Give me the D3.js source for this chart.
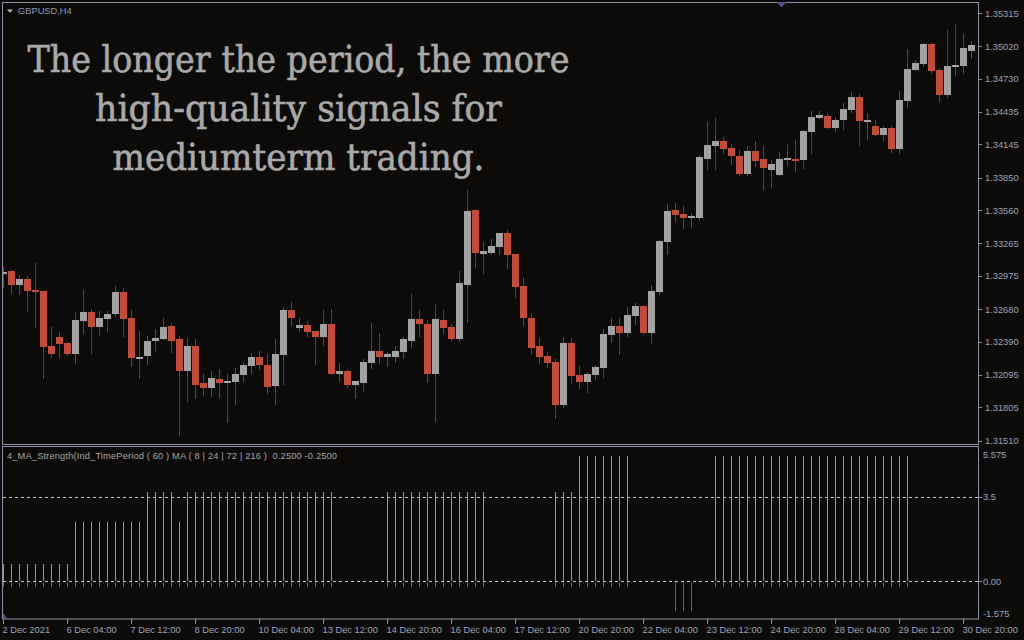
<!DOCTYPE html>
<html>
<head>
<meta charset="utf-8">
<script src="https://cdn.jsdelivr.net/npm/d3@7"></script>
<style>
  html, body { margin: 0; padding: 0; background: #0d0b0a; }
  svg { display: block; }
</style>
</head>
<body>
<script>
// GBPUSD H4 candles
var opens = [1.32988,1.33015,1.32890,1.32944,1.32846,1.32837,1.32347,1.32427,1.32374,1.32276,
  1.32570,1.32650,1.32516,1.32587,1.32632,1.32828,1.32596,1.32240,1.32258,1.32392,
  1.32409,1.32525,1.32409,1.32133,1.32347,1.32018,1.31973,1.32053,1.32026,1.32035,
  1.32089,1.32169,1.32249,1.32178,1.31991,1.32267,1.32668,1.32507,1.32534,1.32481,
  1.32427,1.32543,1.32098,1.32133,1.32000,1.32026,1.32196,1.32311,1.32249,1.32249,
  1.32294,1.32400,1.32587,1.32543,1.32098,1.32579,1.32516,1.32409,1.32890,1.33558,
  1.33166,1.33175,1.33229,1.33353,1.33166,1.32881,1.32596,1.32347,1.32258,1.32205,
  1.31822,1.32374,1.32089,1.32035,1.32089,1.32151,1.32445,1.32525,1.32463,1.32614,
  1.32703,1.32463,1.32828,1.33273,1.33558,1.33522,1.33487,1.33487,1.34012,1.34128,
  1.34173,1.34110,1.34039,1.33879,1.34083,1.34012,1.33914,1.33870,1.34003,1.34012,
  1.34003,1.34253,1.34377,1.34395,1.34288,1.34360,1.34449,1.34564,1.34342,1.34306,
  1.34226,1.34288,1.34101,1.34529,1.34805,1.34858,1.35036,1.34805,1.34582,1.34832,
  1.34840,1.34974];
var highs = [1.33050,1.33024,1.32979,1.32970,1.33086,1.32837,1.32516,1.32472,1.32383,1.32650,
  1.32846,1.32677,1.32659,1.32659,1.32881,1.32863,1.32668,1.32489,1.32436,1.32498,
  1.32596,1.32552,1.32436,1.32418,1.32409,1.32098,1.32133,1.32142,1.32098,1.32151,
  1.32205,1.32285,1.32311,1.32276,1.32409,1.32694,1.32739,1.32596,1.32570,1.32481,
  1.32668,1.32677,1.32196,1.32142,1.32044,1.32231,1.32552,1.32463,1.32302,1.32347,
  1.32427,1.32810,1.32668,1.32579,1.32721,1.32668,1.32543,1.33015,1.33736,1.33567,
  1.33273,1.33300,1.33353,1.33380,1.33166,1.32961,1.32641,1.32418,1.32302,1.32231,
  1.32427,1.32418,1.32169,1.32124,1.32178,1.32498,1.32596,1.32596,1.32694,1.32730,
  1.32712,1.32890,1.33291,1.33612,1.33620,1.33594,1.33531,1.34048,1.34342,1.34377,
  1.34208,1.34146,1.34092,1.34128,1.34173,1.34128,1.34003,1.34075,1.34146,1.34181,
  1.34270,1.34440,1.34440,1.34422,1.34386,1.34511,1.34609,1.34591,1.34422,1.34360,
  1.34306,1.34306,1.34618,1.34992,1.34894,1.35045,1.35045,1.34823,1.35161,1.35214,
  1.35125,1.35063];
var lows = [1.32872,1.32819,1.32810,1.32659,1.32516,1.32062,1.32249,1.32249,1.32267,1.32196,
  1.32463,1.32285,1.32445,1.32489,1.32614,1.32436,1.32169,1.32062,1.32187,1.32311,
  1.32409,1.32294,1.31563,1.31866,1.31884,1.31911,1.31902,1.31893,1.31679,1.31831,
  1.32044,1.32107,1.32142,1.31937,1.31839,1.32009,1.32534,1.32489,1.32436,1.32187,
  1.32356,1.32098,1.32044,1.31982,1.31884,1.31955,1.32151,1.32196,1.32169,1.32205,
  1.32240,1.32338,1.32436,1.32035,1.31688,1.32463,1.32392,1.32392,1.32561,1.33050,
  1.32997,1.33166,1.33166,1.33042,1.32783,1.32534,1.32276,1.32196,1.32160,1.31706,
  1.31804,1.32026,1.31973,1.31946,1.32053,1.32071,1.32383,1.32276,1.32436,1.32543,
  1.32454,1.32374,1.32810,1.33166,1.33460,1.33398,1.33407,1.33469,1.33923,1.33923,
  1.34066,1.33968,1.33870,1.33870,1.33950,1.33745,1.33763,1.33870,1.33959,1.33905,
  1.33932,1.34066,1.34377,1.34288,1.34262,1.34279,1.34431,1.34137,1.34190,1.34226,
  1.34181,1.34075,1.34066,1.34475,1.34805,1.34840,1.34778,1.34529,1.34564,1.34760,
  1.34778,1.34912];
var closes = [1.33006,1.32890,1.32944,1.32837,1.32828,1.32338,1.32276,1.32365,1.32276,1.32579,
  1.32650,1.32516,1.32596,1.32632,1.32828,1.32587,1.32240,1.32249,1.32400,1.32418,
  1.32516,1.32400,1.32133,1.32347,1.32000,1.31973,1.32062,1.32026,1.32044,1.32098,
  1.32178,1.32249,1.32178,1.31982,1.32276,1.32668,1.32596,1.32534,1.32472,1.32427,
  1.32543,1.32098,1.32133,1.32000,1.32044,1.32205,1.32311,1.32249,1.32276,1.32311,
  1.32409,1.32587,1.32543,1.32098,1.32587,1.32507,1.32409,1.32908,1.33549,1.33175,
  1.33193,1.33237,1.33353,1.33157,1.32872,1.32596,1.32329,1.32249,1.32196,1.31822,
  1.32374,1.32080,1.32035,1.32098,1.32160,1.32454,1.32525,1.32463,1.32623,1.32703,
  1.32463,1.32837,1.33282,1.33549,1.33514,1.33487,1.33505,1.34030,1.34137,1.34173,
  1.34101,1.34039,1.33879,1.34083,1.33994,1.33932,1.33968,1.34012,1.34021,1.34003,
  1.34262,1.34386,1.34404,1.34288,1.34360,1.34458,1.34564,1.34351,1.34360,1.34226,
  1.34288,1.34101,1.34538,1.34814,1.34867,1.35036,1.34796,1.34582,1.34840,1.34849,
  1.35001,1.35027];

// 4_MA_Strength histogram (green up part, magenta down part)
var strengthUp = [0.7,0.7,0.7,0.7,0.7,0.7,0.7,0.7,0.7,
  2.45,2.45,2.45,2.45,2.45,2.45,2.45,2.45,2.45,
  3.7,3.7,3.7,3.7,2.45,
  3.7,3.7,3.7,3.7,3.7,3.7,3.7,3.7,3.7,3.7,3.7,3.7,3.7,3.7,3.7,3.7,3.7,3.7,3.7,
  null,null,null,null,null,null,
  3.7,3.7,3.7,3.7,3.7,3.7,3.7,3.7,3.7,3.7,3.7,3.7,3.7,
  null,null,null,null,null,null,null,null,
  3.7,3.7,3.7,
  5.2,5.2,5.2,5.2,5.2,5.2,5.2,
  null,null,null,null,null,null,null,null,null,null,
  5.2,5.2,5.2,5.2,5.2,5.2,5.2,5.2,5.2,5.2,5.2,5.2,5.2,5.2,5.2,5.2,5.2,5.2,5.2,5.2,5.2,5.2,5.2,5.2,5.2,
  null,null,null,null,null,null,null,null];
var strengthDown = [-0.25,-0.25,-0.25,-0.25,-0.25,-0.25,-0.25,-0.25,-0.25,-0.25,
  -0.25,-0.25,-0.25,-0.25,-0.25,-0.25,-0.25,-0.25,-0.25,-0.25,
  -0.25,-0.25,-0.25,-0.25,-0.25,-0.25,-0.25,-0.25,-0.25,-0.25,
  -0.25,-0.25,-0.25,-0.25,-0.25,-0.25,-0.25,-0.25,-0.25,-0.25,-0.25,-0.25,
  null,null,null,null,null,null,
  -0.25,-0.25,-0.25,-0.25,-0.25,-0.25,-0.25,-0.25,-0.25,-0.25,-0.25,-0.25,-0.25,
  null,null,null,null,null,null,null,null,
  -0.25,-0.25,-0.25,-0.25,-0.25,-0.25,-0.25,-0.25,-0.25,-0.25,
  null,null,null,null,null,
  -1.25,-1.25,-1.25,
  null,null,
  -0.25,-0.25,-0.25,-0.25,-0.25,-0.25,-0.25,-0.25,-0.25,-0.25,-0.25,-0.25,-0.25,
  -0.25,-0.25,-0.25,-0.25,-0.25,-0.25,-0.25,-0.25,-0.25,-0.25,-0.25,-0.25,
  null,null,null,null,null,null,null,null];

var dateTickIndex = [0,8,16,24,32,40,48,56,64,72,80,88,96,104,112,120];
var dateTickLabels = ["2 Dec 2021","6 Dec 04:00","7 Dec 12:00","8 Dec 20:00","10 Dec 04:00",
  "13 Dec 12:00","14 Dec 20:00","16 Dec 04:00","17 Dec 12:00","20 Dec 20:00","22 Dec 04:00",
  "23 Dec 12:00","24 Dec 20:00","28 Dec 04:00","29 Dec 12:00","30 Dec 20:00"];
var priceTicks = [1.35315,1.35020,1.34730,1.34435,1.34145,1.33850,1.33560,1.33265,
  1.32975,1.32680,1.32390,1.32095,1.31805,1.31510];
var strengthTicks = [5.575, 3.5, 0, -1.575];
var strengthTickLabels = ["5.575","3.5","0.00","-1.575"];
var strengthLevels = [3.5, 0];
var headline = ["The longer the period, the more", "high-quality signals for", "mediumterm trading."];

var width = 1024, height = 640;
var axisColor = "#8a90a6", labelColor = "#9aa2b8";
var bullColor = "#a3a3a3", bearColor = "#c24b3b", wickColor = "#4a4a4a";
var axisFont = "'Liberation Sans', Arial, sans-serif";

var svg = d3.select("body").append("svg")
    .attr("width", width)
    .attr("height", height)
    .style("font-family", axisFont);

svg.append("rect").attr("width", width).attr("height", height).attr("fill", "#0d0b0a");

// scales
var x = d3.scaleLinear().domain([0, opens.length - 1]).range([3.5, 971.5]);
var y = d3.scaleLinear().domain([1.31510, 1.35315]).range([440.5, 13]);
var iy = d3.scaleLinear().domain([-1.575, 5.575]).range([619, 447]);

svg.append("clipPath").attr("id", "mainClip")
  .append("rect").attr("x", 3).attr("y", 3).attr("width", 975).attr("height", 441);
svg.append("clipPath").attr("id", "indClip")
  .append("rect").attr("x", 3).attr("y", 447).attr("width", 975).attr("height", 172);

// headline text
var headG = svg.append("g");
var headLen = [542, 407, 372];
headline.forEach(function(t, k) {
  headG.append("text")
    .attr("x", 298.5)
    .attr("y", 72 + k * 49)
    .attr("text-anchor", "middle")
    .attr("font-family", "'DejaVu Serif', serif")
    .attr("font-size", 36.5)
    .attr("textLength", headLen[k])
    .attr("lengthAdjust", "spacingAndGlyphs")
    .attr("fill", "#a9a9a9")
    .attr("stroke", "#a9a9a9")
    .attr("stroke-width", 0.6)
    .text(t);
});

// candles
var candles = svg.append("g").attr("clip-path", "url(#mainClip)");
var idx = d3.range(opens.length);

candles.selectAll("line.wick")
  .data(idx)
  .enter().append("line")
    .attr("class", "wick")
    .attr("x1", function(i) { return x(i); })
    .attr("x2", function(i) { return x(i); })
    .attr("y1", function(i) { return Math.round(y(highs[i])); })
    .attr("y2", function(i) { return Math.round(y(lows[i])) + 1; })
    .attr("stroke", wickColor)
    .attr("stroke-width", 1);

candles.selectAll("rect.body")
  .data(idx)
  .enter().append("rect")
    .attr("class", "body")
    .attr("x", function(i) { return x(i) - 3.5; })
    .attr("width", 7)
    .attr("y", function(i) { return Math.round(y(Math.max(opens[i], closes[i]))); })
    .attr("height", function(i) {
      return Math.max(2, Math.round(y(Math.min(opens[i], closes[i]))) - Math.round(y(Math.max(opens[i], closes[i]))));
    })
    .attr("fill", function(i) { return closes[i] >= opens[i] ? bullColor : bearColor; })
    .attr("shape-rendering", "crispEdges");

// main panel frame
svg.append("rect")
  .attr("x", 2.5).attr("y", 2.5).attr("width", 976).attr("height", 442)
  .attr("fill", "none").attr("stroke", axisColor);

// price axis
var pAxis = svg.append("g");
pAxis.selectAll("line")
  .data(priceTicks)
  .enter().append("line")
    .attr("x1", 979).attr("x2", 982)
    .attr("y1", function(d) { return Math.round(y(d)) + 0.5; })
    .attr("y2", function(d) { return Math.round(y(d)) + 0.5; })
    .attr("stroke", axisColor);
pAxis.selectAll("text")
  .data(priceTicks)
  .enter().append("text")
    .attr("x", 985)
    .attr("y", function(d) { return y(d) + 3.5; })
    .attr("font-size", 9.3)
    .attr("fill", labelColor)
    .text(function(d) { return d.toFixed(5); });

// symbol label and markers
svg.append("path").attr("d", "M7,9.5 L13,9.5 L10,12.8 Z").attr("fill", "#b8bcc8");
svg.append("text").attr("x", 18).attr("y", 14).attr("font-size", 9.3)
  .attr("fill", "#8f98b6").text("GBPUSD,H4");
svg.append("path").attr("d", "M776.5,2 L786.5,2 L781.5,7.5 Z").attr("fill", "#4c5284");

// indicator panel
var ind = svg.append("g").attr("clip-path", "url(#indClip)");
ind.selectAll("line.level")
  .data(strengthLevels)
  .enter().append("line")
    .attr("class", "level")
    .attr("x1", 3).attr("x2", 982)
    .attr("y1", function(d) { return Math.round(iy(d)) + 0.5; })
    .attr("y2", function(d) { return Math.round(iy(d)) + 0.5; })
    .attr("stroke", "#c8c8c8")
    .attr("stroke-dasharray", "3,3");

ind.selectAll("line.up")
  .data(idx.filter(function(i) { return strengthUp[i] != null; }))
  .enter().append("line")
    .attr("class", "up")
    .attr("x1", function(i) { return x(i); })
    .attr("x2", function(i) { return x(i); })
    .attr("y1", function(i) { return Math.round(iy(0)); })
    .attr("y2", function(i) { return Math.round(iy(strengthUp[i])); })
    .attr("stroke", "#2ee22e");

ind.selectAll("line.down")
  .data(idx.filter(function(i) { return strengthDown[i] != null; }))
  .enter().append("line")
    .attr("class", "down")
    .attr("x1", function(i) { return x(i); })
    .attr("x2", function(i) { return x(i); })
    .attr("y1", function(i) { return Math.round(iy(0)) + 1; })
    .attr("y2", function(i) { return Math.round(iy(strengthDown[i])); })
    .attr("stroke", "#e0168c");

svg.append("rect")
  .attr("x", 2.5).attr("y", 446.5).attr("width", 976).attr("height", 172.5)
  .attr("fill", "none").attr("stroke", axisColor);
svg.append("path").attr("d", "M3,613 L3,619 L8,619 Z").attr("fill", "#4c5284");

svg.append("text").attr("x", 7).attr("y", 459).attr("font-size", 9.3)
  .attr("fill", "#a6a6a6")
  .attr("textLength", 330)
  .attr("xml:space", "preserve")
  .text("4_MA_Strength(Ind_TimePeriod ( 60 ) MA ( 8 | 24 | 72 | 216 )  0.2500 -0.2500");

// indicator axis
var sAxis = svg.append("g");
sAxis.selectAll("line")
  .data(strengthLevels)
  .enter().append("line")
    .attr("x1", 979).attr("x2", 982)
    .attr("y1", function(d) { return Math.round(iy(d)) + 0.5; })
    .attr("y2", function(d) { return Math.round(iy(d)) + 0.5; })
    .attr("stroke", axisColor);
sAxis.selectAll("text")
  .data(strengthTicks)
  .enter().append("text")
    .attr("x", 983)
    .attr("y", function(d) { return Math.min(Math.max(iy(d), 454), 613) + 3.5; })
    .attr("font-size", 9.3)
    .attr("fill", labelColor)
    .text(function(d, k) { return strengthTickLabels[k]; });

// time axis
var tAxis = svg.append("g");
tAxis.selectAll("line")
  .data(dateTickIndex)
  .enter().append("line")
    .attr("x1", function(i) { return x(i); })
    .attr("x2", function(i) { return x(i); })
    .attr("y1", 619).attr("y2", 624)
    .attr("stroke", axisColor);
tAxis.selectAll("text")
  .data(dateTickIndex)
  .enter().append("text")
    .attr("x", function(i) { return x(i) - 1; })
    .attr("y", 632.5)
    .attr("font-size", 9.3)
    .attr("fill", labelColor)
    .text(function(i, k) { return dateTickLabels[k]; });
</script>
</body>
</html>
